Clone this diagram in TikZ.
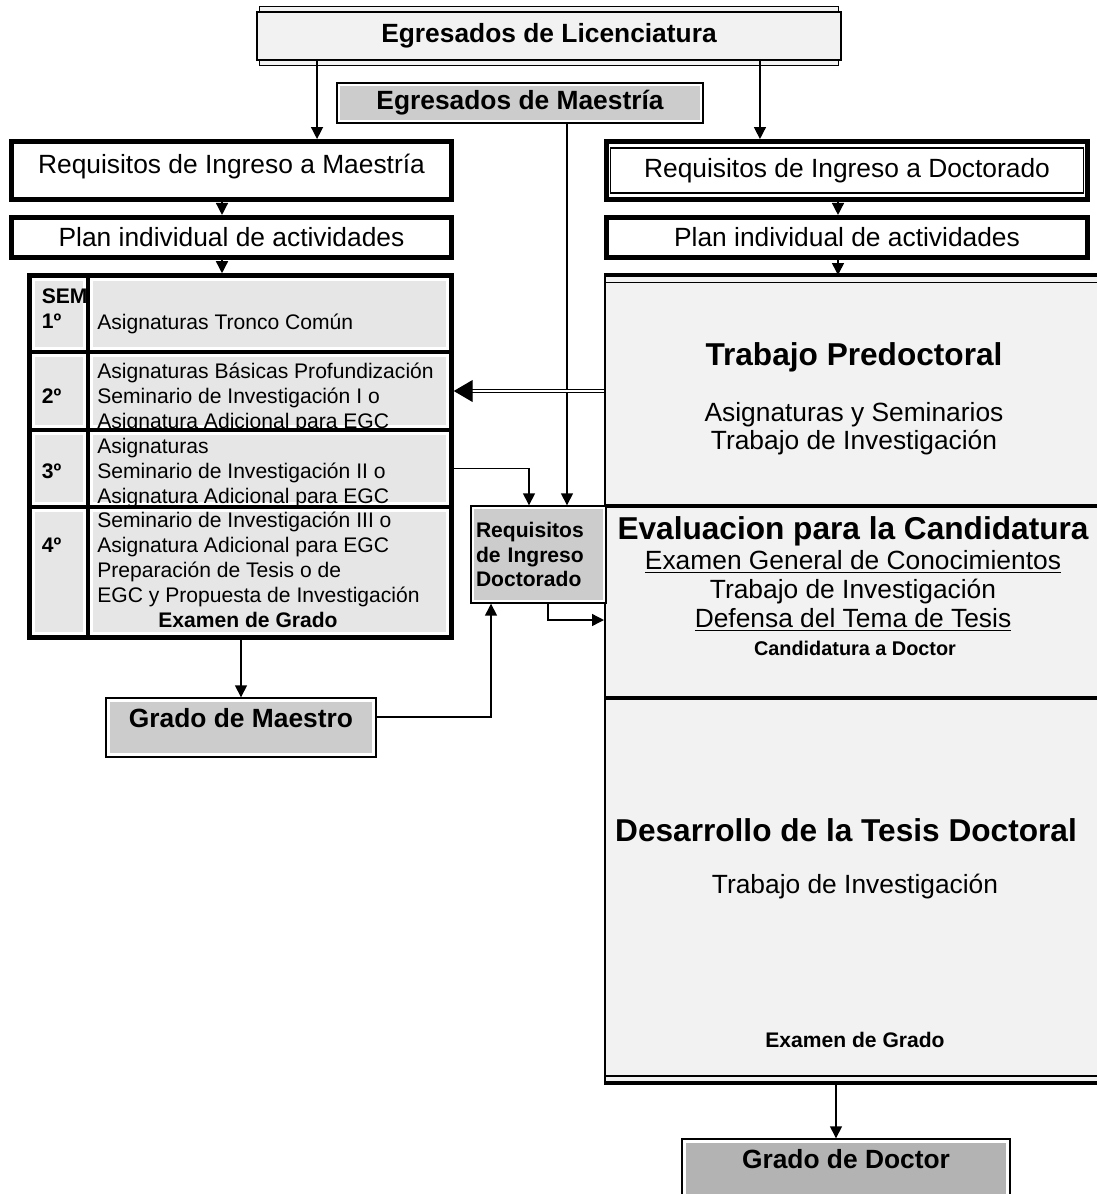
\documentclass[tikz,border=0pt]{standalone}
\usepackage{fontspec}
\setmainfont{Liberation Sans}
\usepackage{tikz}
\usetikzlibrary{arrows.meta, positioning, calc, backgrounds}
\definecolor{cLight}{RGB}{242,242,242}
\definecolor{cCell}{RGB}{230,230,230}
\definecolor{cMid}{RGB}{204,204,204}
\definecolor{cDark}{RGB}{179,179,179}
\newcommand{\fHead}{\fontsize{18}{21}\selectfont}
\newcommand{\fMain}{\fontsize{15}{16}\selectfont}
\newcommand{\fCell}{\fontsize{12}{14.2}\selectfont}
\newcommand{\fSmall}{\fontsize{11.3}{13}\selectfont}
\tikzset{
	% grey face with a white margin inside the frame
	inshade/.style 2 args={path picture={\fill[#1] ([shift={(#2,-#2)}]path picture bounding box.north west) rectangle ([shift={(-#2,#2)}]path picture bounding box.south east);}},
	thinbox/.style ={rectangle, draw=black, line width=0.8pt, fill=white, align=center, font=\bfseries\fMain},
	thickbox/.style={rectangle, draw=black, line width=2.8pt, fill=white, align=center, font=\fMain},
	twinbox/.style ={thickbox, path picture={\draw[line width=0.7pt] ([shift={(0.08cm,-0.13cm)}]path picture bounding box.north west) rectangle ([shift={(-0.08cm,0.13cm)}]path picture bounding box.south east);}},
	tabcell/.style ={rectangle, draw=black, line width=2.6pt, fill=white, inshade={cCell}{0.1cm}},
	ltxt/.style    ={anchor=base west, inner sep=0pt, font=\fCell},
	sig/.style     ={-{Triangle[length=0.24cm, width=0.24cm]}, line width=0.8pt},
	dbl/.style     ={double, double distance=1.4pt, line width=0.6pt, -{Triangle[length=0.38cm, width=0.44cm]}},
}

\begin{document}
\begin{tikzpicture}[x=0.02cm, y=-0.02cm,
			txt/.style={inner sep=0pt, align=center, font=\fMain},
			hd/.style={inner sep=0pt, font=\bfseries\fHead}]
	\useasboundingbox (0,0) rectangle (1097,1194);
	% entry boxes
	\node[thinbox, fill=cLight, minimum width=11.68cm, minimum height=0.96cm] (lic) at (549,36) {Egresados de Licenciatura};
	\begin{scope}[on background layer]
		\draw[line width=0.8pt, fill=cLight] ([xshift=0.06cm,yshift=0.1cm]lic.north west) rectangle ([xshift=-0.06cm,yshift=-0.1cm]lic.south east);
	\end{scope}
	\node[thinbox, inshade={cMid}{0.06cm}, minimum width=7.32cm, minimum height=0.8cm] (egm) at (520,103) {Egresados de Maestría};
	\node[thickbox, minimum width=8.8cm, minimum height=1.16cm, text height=0.4cm, text depth=0.28cm] (reqm) at (231.5,170.5) {Requisitos de Ingreso a Maestría};
	\node[thickbox, minimum width=8.8cm, minimum height=0.8cm, below=0.26cm of reqm] (planm) {Plan individual de actividades};
	\node[twinbox, minimum width=9.62cm, minimum height=1.16cm] (reqd) at (847,170.5) {Requisitos de Ingreso a Doctorado};
	\node[thickbox, minimum width=9.62cm, minimum height=0.8cm, below=0.26cm of reqd] (pland) {Plan individual de actividades};
	% semester table
	\foreach \n/\y/\h in {1/313.75/1.53, 2/391/1.56, 3/468.5/1.54, 4/572.25/2.61} {
		\node[tabcell, minimum width=1.17cm, minimum height=\h cm] (s\n) at (58.75,\y) {};
		\node[tabcell, minimum width=7.27cm, minimum height=\h cm] (r\n) at (269.75,\y) {};
	}
	\node[ltxt, font=\bfseries\fCell] (sem) at (41.5,303) {SEM};
	\foreach \n/\y in {1/328, 2/403, 3/478, 4/552} \node[ltxt, font=\bfseries\fCell] (o\n) at (41.5,\y) {{\n}º};
	\node[ltxt] (t11) at (97,329) {Asignaturas Tronco Común};
	\begin{scope}
		\clip ([shift={(0.1cm,-0.1cm)}]r2.north west) rectangle ([shift={(-0.1cm,0.1cm)}]r2.south east);
		\foreach \lbl [count=\i] in {Asignaturas Básicas Profundización, Seminario de Investigación I o, Asignatura Adicional para EGC}
			\node[ltxt] (t2\i) at (97,{353+25*\i}) {\lbl};
	\end{scope}
	\begin{scope}
		\clip ([shift={(0.1cm,-0.1cm)}]r3.north west) rectangle ([shift={(-0.1cm,0.1cm)}]r3.south east);
		\foreach \lbl [count=\i] in {Asignaturas, Seminario de Investigación II o, Asignatura Adicional para EGC}
			\node[ltxt] (t3\i) at (97,{428+25*\i}) {\lbl};
	\end{scope}
	\foreach \lbl [count=\i] in {Seminario de Investigación III o, Asignatura Adicional para EGC, Preparación de Tesis  o de, EGC y Propuesta de Investigación}
		\node[ltxt] (t4\i) at (97,{502+25*\i}) {\lbl};
	\node[ltxt, anchor=base, font=\bfseries\fCell] (eg1) at (248,627) {Examen de Grado};
	% doctorate block
	\node[draw, line width=1.2pt, fill=cLight, minimum width=10.1cm, minimum height=16.12cm, inner sep=0pt] (doc) at (857.5,679) {};
	\coordinate (d1) at (0,506);
	\coordinate (d2) at (0,698);
	\draw[line width=2.6pt] (doc.north west) -- (doc.north east);
	\draw[line width=0.8pt] ([yshift=-0.15cm]doc.north west) -- ([yshift=-0.15cm]doc.north east);
	\draw[line width=2.6pt] (doc.south west) -- (doc.south east);
	\draw[line width=0.8pt] ([yshift=0.14cm]doc.south west) -- ([yshift=0.14cm]doc.south east);
	\foreach \d in {d1,d2} \draw[line width=2.6pt] (doc.west |- \d) -- (doc.east |- \d);
	\node[hd] (pre) at (854,357) {Trabajo Predoctoral};
	\node[txt] (pre2) at (854,429) {Asignaturas y Seminarios\\Trabajo de Investigación};
	\node[hd] (eva) at (853,531) {Evaluacion para la Candidatura};
	\node[txt] (egc) at (853,562) {\underline{Examen General de Conocimientos}};
	\node[txt] (inv) at (853,592) {Trabajo de Investigación};
	\node[txt] (dfs) at (853,620) {\underline{Defensa del Tema de Tesis}};
	\node[txt, font=\bfseries\fSmall] (cand) at (855,648) {Candidatura a Doctor};
	\node[hd] (des) at (846,830) {Desarrollo de la Tesis Doctoral};
	\node[txt] (inv2) at (855,887) {Trabajo de Investigación};
	\node[txt, font=\bfseries\fCell] (eg2) at (855,1040) {Examen de Grado};
	% middle and exit boxes
	\node[thinbox, inshade={cMid}{0.06cm}, minimum width=2.7cm, minimum height=1.94cm, text width=2.5cm, inner xsep=0.1cm, align=left, font=\bfseries\fCell] (reqi) at (538.5,554.5) {Requisitos\\de Ingreso\\Doctorado};
	\node[thinbox, inshade={cMid}{0.08cm}, minimum width=5.4cm, minimum height=1.18cm, text height=0.3cm, text depth=0.3cm] (gm) at (241,727.5) {Grado de Maestro};
	\node[thinbox, inshade={cDark}{0.08cm}, minimum width=6.56cm, minimum height=1.18cm, text height=0.3cm, text depth=0.3cm] (gd) at (846,1168.5) {Grado de Doctor};
	% connectors
	\draw[sig] ([xshift=-4.64cm]lic.south) -- ([xshift=-4.64cm]lic.south |- reqm.north);
	\draw[sig] ([xshift=4.22cm]lic.south) -- ([xshift=4.22cm]lic.south |- reqd.north);
	\draw[sig] ([xshift=-0.19cm]reqm.south) -- ([xshift=-0.19cm]planm.north);
	\draw[sig] ([xshift=-0.19cm]planm.south) -- ([xshift=-0.19cm]planm.south |- r1.north);
	\draw[sig] ([xshift=-0.18cm]reqd.south) -- ([xshift=-0.18cm]pland.north);
	\draw[sig] ([xshift=-0.18cm]pland.south) -- ([xshift=-0.18cm]pland.south |- doc.north);
	\draw[sig] ([xshift=0.94cm]egm.south) -- ([xshift=0.94cm]egm.south |- reqi.north);
	\draw[sig] (r3.east) -| ([xshift=-0.19cm]reqi.north);
	\draw[sig] ([xshift=0.19cm]reqi.south) |- (doc.west |- dfs);
	\draw[sig] ([yshift=0.21cm]gm.east) -| ([xshift=-0.95cm]reqi.south);
	\draw[sig] (gm.north |- r4.south) -- (gm.north);
	\draw[sig] ([xshift=-0.2cm]gd.north |- doc.south) -- ([xshift=-0.2cm]gd.north);
	\draw[dbl] (doc.west |- r2.east) -- (r2.east);
\end{tikzpicture}
\end{document}
